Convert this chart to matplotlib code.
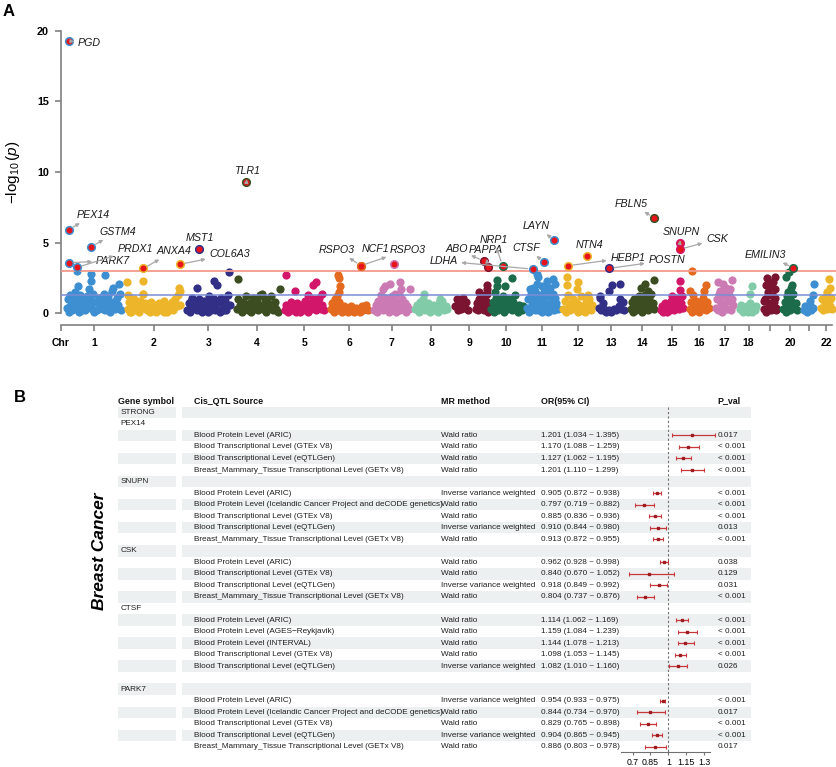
import numpy as np
import matplotlib
matplotlib.use('Agg')
from matplotlib import pyplot as plt
from matplotlib.patches import Rectangle

plt.rcParams['font.family'] = ['Liberation Sans', 'DejaVu Sans']
plt.rcParams['mathtext.fontset'] = 'custom'
plt.rcParams['mathtext.rm'] = 'Liberation Sans'
plt.rcParams['mathtext.it'] = 'Liberation Sans:italic'

W, H = 837, 767

# ---------------- panel A data ----------------
CHR_LEN = [249, 243, 198, 191, 181, 171, 159, 146, 141, 136, 135,
           134, 115, 107, 103, 90, 81, 78, 59, 63, 48, 51]
CHR_GAP = 31.2
CHR_COLORS = ['#3D8FD1', '#EDB52A', '#322F86', '#3C4D22', '#D2176B',
              '#E36A1E', '#CB7AB3', '#82CBA8', '#7A1431', '#1C6B4B']
CHR_TICKS = ['1', '2', '3', '4', '5', '6', '7', '8', '9', '10', '11',
             '12', '13', '14', '15', '16', '17', '18', '', '20', '', '22']

# background SNPs: position as fraction of chromosome, -log10(p)
BG_POS = [
    [0.00, 0.02, 0.04, 0.06, 0.08, 0.10, 0.12, 0.14, 0.16, 0.18, 0.20, 0.22, 0.25, 0.28, 0.31, 0.34, 0.37, 0.40,
     0.43, 0.46, 0.49, 0.52, 0.56, 0.59, 0.62, 0.65, 0.68, 0.71, 0.74, 0.77, 0.80, 0.83, 0.86, 0.89, 0.92, 0.95,
     0.98, 1.01, 0.18, 0.20, 0.44, 0.45, 0.71, 0.41, 0.97, 0.86, 0.33, 0.09, 0.05, 0.27, 0.50, 0.66, 0.79, 0.93],
    [0.00, 0.03, 0.06, 0.09, 0.12, 0.15, 0.18, 0.21, 0.24, 0.27, 0.30, 0.33, 0.36, 0.39, 0.42, 0.45, 0.48, 0.51,
     0.54, 0.57, 0.60, 0.63, 0.66, 0.69, 0.72, 0.75, 0.78, 0.81, 0.84, 0.87, 0.90, 0.93, 0.96, 0.99, -0.02, 0.30,
     0.30, 0.98, 1.00, 0.01, 0.05, 0.20, 0.40, 0.55, 0.70, 0.85],
    [0.00, 0.04, 0.08, 0.12, 0.16, 0.20, 0.24, 0.28, 0.32, 0.36, 0.40, 0.44, 0.48, 0.52, 0.56, 0.60, 0.64, 0.68,
     0.72, 0.76, 0.80, 0.84, 0.88, 0.92, 0.96, 1.00, 0.23, 0.63, 0.70, 0.99, 0.10, 0.06, 0.30, 0.50, 0.66, 0.86],
    [0.00, 0.04, 0.08, 0.12, 0.16, 0.20, 0.24, 0.28, 0.32, 0.36, 0.40, 0.44, 0.48, 0.52, 0.56, 0.60, 0.64, 0.68,
     0.72, 0.76, 0.80, 0.84, 0.88, 0.92, 0.96, 1.00, 0.03, 1.04, 0.62, 0.50, 0.10, 0.30, 0.46, 0.70, 0.90],
    [0.00, 0.04, 0.08, 0.12, 0.16, 0.20, 0.24, 0.28, 0.32, 0.36, 0.40, 0.44, 0.48, 0.52, 0.56, 0.60, 0.64, 0.68,
     0.72, 0.76, 0.80, 0.84, 0.88, 0.92, 0.96, 1.00, 0.03, 0.26, 0.72, 0.79, 0.95, 0.60],
    [0.00, 0.04, 0.08, 0.12, 0.16, 0.20, 0.24, 0.28, 0.32, 0.36, 0.40, 0.44, 0.48, 0.52, 0.56, 0.60, 0.64, 0.68,
     0.72, 0.76, 0.80, 0.84, 0.88, 0.92, 0.96, 1.00, 0.20, 0.24, 0.26, 0.22, 0.18],
    [0.00, 0.04, 0.08, 0.12, 0.16, 0.20, 0.24, 0.28, 0.32, 0.36, 0.40, 0.44, 0.48, 0.52, 0.56, 0.60, 0.64, 0.68,
     0.72, 0.76, 0.80, 0.84, 0.88, 0.92, 0.96, 1.00, 0.24, 0.32, 0.45, 0.75, 0.78, 1.03, 0.60],
    [0.00, 0.05, 0.10, 0.15, 0.20, 0.25, 0.30, 0.35, 0.40, 0.45, 0.50, 0.55, 0.60, 0.65, 0.70, 0.75, 0.80, 0.85,
     0.90, 0.95, 1.00, 0.27, 0.78],
    [0.05, 0.10, 0.15, 0.20, 0.25, 0.30, 0.35, 0.40, 0.45, 0.72, 0.76, 0.80, 0.84, 0.88, 0.92, 0.96, 1.00, 1.04,
     1.08, 1.12, 1.10, 1.10, 1.08, 0.90, 0.83],
    [0.00, 0.05, 0.10, 0.15, 0.20, 0.25, 0.30, 0.35, 0.40, 0.45, 0.50, 0.55, 0.60, 0.65, 0.70, 0.75, 0.80, 0.85,
     0.90, 0.95, 1.00, 0.19, 0.19, 0.48, 0.72, 0.12, 1.05, 1.10],
    [0.00, 0.04, 0.08, 0.12, 0.16, 0.20, 0.24, 0.28, 0.32, 0.36, 0.40, 0.44, 0.48, 0.52, 0.56, 0.60, 0.64, 0.68,
     0.72, 0.76, 0.80, 0.84, 0.88, 0.92, 0.96, 1.00, 0.32, 0.36, 0.34, 0.66, 0.88, 0.94, 0.50, 0.20, 0.60, 0.78,
     0.10, 0.06, 0.26, 0.46, 0.70, 0.90, 1.04],
    [0.00, 0.05, 0.10, 0.15, 0.20, 0.25, 0.30, 0.35, 0.40, 0.45, 0.50, 0.55, 0.60, 0.65, 0.70, 0.75, 0.80, 0.85,
     0.90, 0.95, 1.00, 0.12, 0.12, 0.50, 0.48, 0.85],
    [0.00, 0.05, 0.10, 0.15, 0.20, 0.30, 0.40, 0.50, 0.60, 0.70, 0.80, 0.85, 0.90, 0.95, 1.00, 0.52, 0.85, 0.39,
     0.05],
    [0.00, 0.05, 0.10, 0.15, 0.20, 0.25, 0.30, 0.35, 0.40, 0.45, 0.50, 0.55, 0.60, 0.65, 0.70, 0.75, 0.80, 0.85,
     0.90, 0.95, 1.00, 1.00, 0.63, 0.45, 0.75],
    [0.00, 0.06, 0.12, 0.18, 0.24, 0.30, 0.36, 0.42, 0.48, 0.54, 0.60, 0.66, 0.72, 0.78, 0.84, 0.90, 0.96, 1.02,
     0.86, 0.88, 0.50, 0.70],
    [0.00, 0.07, 0.14, 0.21, 0.28, 0.35, 0.42, 0.49, 0.56, 0.63, 0.70, 0.77, 0.84, 0.91, 0.98, 0.13, 0.00, 0.18,
     0.73, 0.85],
    [0.00, 0.07, 0.14, 0.21, 0.28, 0.35, 0.42, 0.49, 0.56, 0.63, 0.70, 0.77, 0.84, 0.91, 0.98, 0.15, 0.93, 0.40,
     0.60, 0.80, 0.25, 0.50],
    [0.00, 0.08, 0.16, 0.24, 0.32, 0.40, 0.48, 0.56, 0.64, 0.72, 0.80, 0.88, 0.96, 0.71, 0.60],
    [0.00, 0.10, 0.20, 0.30, 0.40, 0.50, 0.60, 0.70, 0.80, 0.90, 1.00, 0.25, 0.90, 0.50, 0.15, 0.70, 0.35, 0.85,
     0.05, 0.55, 0.95],
    [0.00, 0.10, 0.20, 0.30, 0.40, 0.50, 0.60, 0.70, 0.80, 0.90, 1.00, 0.40, 0.23, 0.55, 0.62, 0.35],
    [0.00, 0.15, 0.30, 0.45, 0.60, 0.75, 0.90, 0.98, 0.95, 0.60],
    [0.00, 0.12, 0.24, 0.36, 0.48, 0.60, 0.72, 0.84, 0.96, 1.05, 0.72, 0.80, 0.60],
]
BG_LOGP = [
    [0.4, 1.0, 0.1, 1.3, 0.6, 0.2, 0.9, 1.5, 0.3, 1.1, 0.7, 0.1, 1.3, 0.5, 0.9, 0.2, 1.2, 0.6, 1.0, 0.3, 1.4, 0.8,
     0.2, 1.1, 0.5, 0.9, 1.4, 0.2, 0.7, 1.2, 0.4, 1.6, 0.8, 0.3, 1.1, 0.6, 1.4, 0.2, 3.0, 1.9, 2.8, 2.3, 2.7, 1.7,
     2.1, 1.8, 0.7, 0.8, 0.5, 0.2, 0.1, 0.3, 0.1, 0.4],
    [0.3, 0.8, 0.1, 0.5, 1.0, 0.2, 0.6, 0.1, 0.9, 0.4, 1.4, 0.7, 0.2, 0.5, 0.1, 0.8, 0.3, 0.6, 0.1, 0.4, 0.7, 0.2,
     0.5, 0.9, 0.3, 0.1, 0.6, 0.4, 0.8, 0.2, 1.0, 0.5, 1.3, 0.6, 2.2, 2.3, 1.4, 1.8, 1.6, 1.3, 0.1, 0.3, 0.3, 0.2,
     0.1, 0.3],
    [0.2, 0.7, 0.1, 1.1, 0.4, 0.8, 0.2, 1.0, 0.5, 0.1, 0.9, 0.3, 0.7, 1.2, 0.2, 0.6, 1.0, 0.3, 0.8, 0.1, 1.1, 0.5,
     0.9, 0.2, 1.3, 0.6, 1.8, 2.3, 2.0, 2.9, 0.9, 0.4, 0.3, 0.1, 0.2, 0.2],
    [0.3, 1.0, 0.6, 0.1, 0.8, 0.4, 1.2, 0.2, 0.7, 0.1, 1.1, 0.5, 0.9, 0.2, 1.3, 0.6, 0.3, 1.0, 0.1, 0.7, 0.4, 1.2,
     0.2, 0.8, 0.3, 0.1, 2.4, 1.7, 1.4, 1.0, 0.2, 0.4, 0.3, 0.4, 0.5],
    [0.2, 0.6, 0.1, 0.4, 0.8, 0.2, 0.5, 0.1, 0.7, 0.3, 0.1, 0.6, 0.2, 0.9, 0.4, 0.1, 0.7, 0.3, 1.0, 0.5, 0.2, 0.8,
     1.1, 0.3, 0.6, 0.2, 2.7, 1.6, 2.0, 2.2, 1.4, 1.3],
    [0.3, 0.7, 0.1, 1.0, 0.4, 0.2, 0.8, 0.3, 0.1, 0.5, 0.2, 0.4, 0.1, 0.3, 0.5, 0.2, 0.1, 0.4, 0.2, 0.3, 0.1, 0.5,
     0.2, 0.3, 0.6, 0.2, 2.7, 2.5, 1.9, 1.5, 1.2],
    [0.2, 0.6, 0.1, 0.9, 0.4, 1.3, 0.2, 0.7, 1.1, 0.3, 0.8, 0.1, 0.5, 1.2, 0.3, 0.9, 0.1, 0.6, 1.4, 0.2, 1.0, 0.4,
     0.7, 0.1, 0.5, 0.3, 1.7, 1.9, 2.1, 2.2, 1.7, 1.7, 1.4],
    [0.3, 0.6, 0.1, 0.8, 0.4, 1.0, 0.2, 0.5, 0.7, 0.1, 0.4, 0.6, 0.2, 0.5, 0.1, 0.7, 0.3, 0.9, 0.2, 0.5, 0.3, 1.4,
     1.0],
    [0.5, 1.0, 0.2, 0.7, 0.3, 1.1, 0.4, 0.8, 0.2, 0.3, 0.7, 0.2, 1.0, 0.4, 1.2, 0.6, 0.2, 0.9, 0.5, 0.1, 2.0, 1.7,
     1.4, 1.3, 1.5],
    [0.3, 0.8, 0.1, 1.1, 0.5, 0.2, 0.9, 0.4, 1.2, 0.1, 0.7, 0.3, 1.0, 0.5, 0.2, 0.8, 1.3, 0.4, 0.1, 0.6, 0.3, 2.35,
     1.9, 1.9, 2.5, 1.5, 0.2, 0.5],
    [0.4, 1.0, 0.2, 1.4, 0.6, 1.1, 0.3, 1.6, 0.8, 0.2, 1.3, 0.5, 1.0, 0.1, 1.5, 0.7, 0.3, 1.2, 0.6, 1.7, 0.2, 0.9,
     1.4, 0.4, 1.1, 0.7, 2.8, 2.6, 2.1, 2.3, 2.4, 2.1, 1.9, 1.8, 1.9, 1.8, 1.7, 0.1, 0.2, 0.3, 0.1, 0.2, 0.3],
    [0.3, 0.9, 0.1, 1.3, 0.5, 0.2, 0.7, 1.0, 0.3, 0.8, 0.1, 0.6, 1.2, 0.3, 0.5, 0.1, 0.8, 0.4, 1.0, 0.2, 0.6, 2.6,
     2.0, 2.2, 1.7, 1.3],
    [0.4, 1.1, 0.2, 0.7, 0.3, 0.1, 0.2, 0.1, 0.3, 0.2, 0.5, 1.0, 0.3, 0.8, 0.2, 2.0, 2.1, 1.6, 1.2],
    [0.3, 0.8, 0.1, 1.0, 0.5, 0.2, 0.7, 1.2, 0.4, 0.9, 0.1, 0.6, 1.3, 0.3, 0.8, 0.2, 1.1, 0.5, 1.4, 0.7, 0.3, 2.35,
     2.1, 1.8, 1.6],
    [0.2, 0.5, 0.1, 0.7, 0.3, 0.1, 0.6, 0.2, 0.9, 0.4, 0.2, 0.8, 0.5, 1.0, 0.3, 0.7, 1.2, 0.4, 2.3, 1.65, 1.2, 1.1],
    [0.3, 0.8, 0.1, 0.5, 0.2, 0.9, 0.4, 0.1, 0.7, 0.3, 1.1, 0.5, 0.2, 0.8, 0.4, 3.0, 1.6, 1.3, 1.6, 2.0],
    [0.4, 1.0, 0.2, 1.4, 0.7, 0.1, 1.2, 0.5, 1.6, 0.3, 0.9, 1.3, 0.2, 1.0, 0.6, 2.2, 2.35, 2.1, 1.8, 1.7, 1.6, 1.5],
    [0.3, 0.6, 0.1, 0.4, 0.2, 0.5, 0.1, 0.7, 0.3, 0.1, 0.4, 0.2, 0.5, 1.9, 1.4],
    [0.3, 1.0, 0.1, 1.5, 0.6, 1.9, 0.2, 1.2, 0.8, 1.7, 0.4, 2.5, 2.6, 2.1, 2.0, 2.2, 1.3, 1.1, 0.9, 0.7, 0.2],
    [0.3, 0.8, 0.1, 1.2, 0.5, 0.2, 0.9, 1.4, 0.4, 0.7, 0.2, 2.95, 2.6, 1.8, 2.0, 1.5],
    [0.2, 0.5, 0.1, 0.3, 0.6, 0.2, 0.4, 2.1, 1.3, 0.9],
    [0.4, 1.0, 0.2, 0.7, 1.2, 0.3, 0.9, 0.5, 1.1, 0.3, 2.4, 1.8, 1.5],
]

# significant genes
HL_GENE = ['PGD', 'PEX14', 'PARK7', 'PRDX1', 'GSTM4', 'ANXA4', 'COL6A3', 'MST1', 'TLR1', 'RSPO3', 'NCF1',
           'RSPO3', 'ABO', 'PAPPA', 'NRP1', 'LDHA', 'CTSF', 'LAYN', 'HEBP1', 'NTN4', 'POSTN', 'FBLN5', 'SNUPN',
           'CSK', 'EMILIN3']
HL_CHR = [1, 1, 1, 1, 1, 2, 2, 3, 4, 6, 7, 6, 9, 9, 10, 11, 11, 11, 12, 12, 13, 14, 15, 15, 20]
HL_POS = [0.03, 0.03, 0.03, 0.19, 0.45, 0.30, 1.00, 0.28, 0.24, 0.82, 0.58, 0.82, 0.99, 1.11, 0.39, 0.18, 0.57,
          0.91, 0.17, 0.81, 0.41, 1.00, 0.87, 0.87, 0.74]
HL_LOGP = [19.27, 5.90, 3.58, 3.25, 4.71, 3.18, 3.47, 4.57, 9.31, 3.37, 3.47, 3.37, 3.70, 3.25, 3.37, 3.13, 3.65,
           5.19, 3.37, 4.08, 3.18, 6.77, 5.00, 4.53, 3.23]
# label placement (pixels from the point) and whether a leader arrow is drawn
HL_OFFSET = [(9, -2), (8, 15), (27, 2), (40, 18), (8, 15), (13, 17), (29, 10), (-13, 11), (-12, 11), (-42, 16),
             (-33, 15), (29, 16), (-39, 12), (-19, 17), (-23, 26), (-103, 8), (-32, 14), (-31, 14), (42, 8),
             (-11, 11), (39, 8), (-39, 14), (-17, 11), (26, 10), (-49, 13)]
HL_ARROW = [1, 1, 1, 1, 1, 1, 1, 0, 1, 1, 0, 1, 1, 1, 1, 1, 1, 1, 1, 0, 1, 1, 1, 1, 1]

SUGGEST_LINE = 1.3
SIG_LINE = 3.0

# ---------------- panel B data ----------------
ROW_GENE = ['STRONG', 'PEX14', '', '', '', '', 'SNUPN', '', '', '', '', '', 'CSK', '', '', '', '', 'CTSF',
            '', '', '', '', '', '', 'PARK7', '', '', '', '', '']
SRC_ARIC = 'Blood Protein Level (ARIC)'
SRC_ICE = 'Blood Protein Level (Icelandic Cancer Project and deCODE genetics)'
SRC_GTEX = 'Blood Transcriptional Level (GTEx V8)'
SRC_EQTL = 'Blood Transcriptional Level (eQTLGen)'
SRC_BREAST = 'Breast_Mammary_Tissue Transcriptional Level (GETx V8)'
ROW_SOURCE = ['', '', SRC_ARIC, SRC_GTEX, SRC_EQTL, SRC_BREAST,
              '', SRC_ARIC, SRC_ICE, SRC_GTEX, SRC_EQTL, SRC_BREAST,
              '', SRC_ARIC, SRC_GTEX, SRC_EQTL, SRC_BREAST,
              '', SRC_ARIC, 'Blood Protein Level (AGES\u2212Reykjavik)', 'Blood Protein Level (INTERVAL)',
              SRC_GTEX, SRC_EQTL,
              '', '', SRC_ARIC, SRC_ICE, SRC_GTEX, SRC_EQTL, SRC_BREAST]
WR = 'Wald ratio'
IVW = 'Inverse variance weighted'
ROW_METHOD = ['', '', WR, WR, WR, WR,
              '', IVW, WR, WR, IVW, WR,
              '', WR, WR, IVW, WR,
              '', WR, WR, WR, WR, IVW,
              '', '', IVW, WR, WR, IVW, WR]
ROW_OR = [None, None, 1.201, 1.170, 1.127, 1.201,
          None, 0.905, 0.797, 0.885, 0.910, 0.913,
          None, 0.962, 0.840, 0.918, 0.804,
          None, 1.114, 1.159, 1.144, 1.098, 1.082,
          None, None, 0.954, 0.844, 0.829, 0.904, 0.886]
ROW_LO = [None, None, 1.034, 1.088, 1.062, 1.110,
          None, 0.872, 0.719, 0.836, 0.844, 0.872,
          None, 0.928, 0.670, 0.849, 0.737,
          None, 1.062, 1.084, 1.078, 1.053, 1.010,
          None, None, 0.933, 0.734, 0.765, 0.865, 0.803]
ROW_HI = [None, None, 1.395, 1.259, 1.195, 1.299,
          None, 0.938, 0.882, 0.936, 0.980, 0.955,
          None, 0.998, 1.052, 0.992, 0.876,
          None, 1.169, 1.239, 1.213, 1.145, 1.160,
          None, None, 0.975, 0.970, 0.898, 0.945, 0.978]
ROW_P = ['', '', '0.017', '< 0.001', '< 0.001', '< 0.001',
         '', '< 0.001', '< 0.001', '< 0.001', '0.013', '< 0.001',
         '', '0.038', '0.129', '0.031', '< 0.001',
         '', '< 0.001', '< 0.001', '< 0.001', '< 0.001', '0.026',
         '', '', '< 0.001', '0.017', '< 0.001', '< 0.001', '0.017']
HEADERS = ['Gene symbol', 'Cis_QTL Source', 'MR method', 'OR(95% CI)', 'P_val']
OR_TICKS = [0.7, 0.85, 1, 1.15, 1.3]

fig = plt.figure(figsize=(W / 100, H / 100), dpi=100)


def px_axes(left, top, right, bottom):
    return fig.add_axes([left / W, 1 - bottom / H, (right - left) / W, (bottom - top) / H])


# ================= Panel A : Manhattan =================
PX_PER_MB = 0.2164
X0_PX = 67.0
Y0_PX = 313.3
PX_PER_LOG = 14.13

ax = px_axes(40, 15, 837, 335)
ax.set_xlim((40 - X0_PX) / PX_PER_MB, (837 - X0_PX) / PX_PER_MB)
ax.set_ylim((Y0_PX - 335) / PX_PER_LOG, (Y0_PX - 15) / PX_PER_LOG)
ax.patch.set_alpha(0)

chr_len = np.array(CHR_LEN, dtype=float)
chr_start = np.concatenate([[0.0], np.cumsum(chr_len + CHR_GAP)[:-1]])
chr_mid = chr_start + chr_len / 2
x_origin = (61 - X0_PX) / PX_PER_MB
x_end = chr_start[-1] + chr_len[-1]

for i in range(len(CHR_LEN)):
    n = min(len(BG_POS[i]), len(BG_LOGP[i]))
    xs = chr_start[i] + np.array(BG_POS[i][:n]) * chr_len[i]
    ax.scatter(xs, BG_LOGP[i][:n], s=35, color=CHR_COLORS[i % 10], linewidths=0, zorder=2)

ax.hlines(SIG_LINE, x_origin, x_end + 20, color='#F59A8C', lw=1.3, zorder=3)
ax.hlines(SUGGEST_LINE, x_origin, x_end + 20, color='#7B8CD6', lw=1.1, zorder=3)

for k, gene in enumerate(HL_GENE):
    c = HL_CHR[k] - 1
    x = chr_start[c] + HL_POS[k] * chr_len[c]
    y = HL_LOGP[k]
    ax.scatter([x], [y], s=30, facecolor='#E8141B', edgecolor=CHR_COLORS[c % 10],
               linewidths=1.1, zorder=4)
    props = None
    if HL_ARROW[k]:
        props = dict(arrowstyle='<|-', color='#A8A8A8', lw=0.9, mutation_scale=5,
                     shrinkA=0.5, shrinkB=3.5)
    ax.annotate(gene, xy=(x, y), xytext=HL_OFFSET[k], textcoords='offset pixels',
                ha='left', va='center', fontsize=7.7, style='italic', color='#1a1a1a',
                arrowprops=props, zorder=5)

for side in ['top', 'right']:
    ax.spines[side].set_visible(False)
ax.spines['left'].set_position(('data', x_origin))
ax.spines['left'].set_bounds(0, 20)
ax.spines['bottom'].set_position(('data', (Y0_PX - 325) / PX_PER_LOG))
ax.spines['bottom'].set_bounds(x_origin, x_end)
for side in ['left', 'bottom']:
    ax.spines[side].set_color('#808080')
    ax.spines[side].set_linewidth(1.2)

ax.set_yticks([0, 5, 10, 15, 20])
ax.set_yticklabels(['0', '5', '10', '15', '20'], fontweight='bold', fontsize=7.8)
ax.set_xticks([x_origin] + list(chr_mid))
ax.set_xticklabels(['Chr'] + CHR_TICKS, fontweight='bold', fontsize=7.5)
ax.tick_params(axis='both', color='#808080', width=1.2, length=4.3, direction='out', pad=4.5)
ax.tick_params(axis='x', pad=5)

fig.text(13 / W, 1 - 172 / H, r'$-\log_{10}(\mathit{p})$', rotation=90, ha='center', va='center',
         fontsize=11)
fig.text(3 / W, 1 - 11 / H, 'A', fontsize=12, fontweight='bold', ha='left', va='center')

# ================= Panel B : table + forest =================
ROW_TOP = 412.3
ROW_H = 11.54
n_rows = len(ROW_GENE)
ylo = (767 - ROW_TOP) / ROW_H
yhi = (380 - ROW_TOP) / ROW_H

axt = px_axes(0, 380, 837, 767)
axt.set_xlim(0, W)
axt.set_ylim(ylo, yhi)
axt.axis('off')

band = '#EDF0F0'
for i in range(0, n_rows, 2):
    axt.add_patch(Rectangle((118.3, i - 0.5), 57.7, 1.0, color=band, lw=0, zorder=0))
    axt.add_patch(Rectangle((181.7, i - 0.5), 569.3, 1.0, color=band, lw=0, zorder=0))

col_x = [118.3, 194.3, 440.7, 541.0, 717.7]
head_y = (401 - ROW_TOP) / ROW_H
for hx, htxt in zip(col_x, HEADERS):
    axt.text(hx, head_y, htxt, fontsize=6.4, fontweight='bold', ha='left', va='center', color='#111111')

body = dict(fontsize=5.9, ha='left', va='center', color='#1f1f1f')
for i in range(n_rows):
    if ROW_GENE[i]:
        axt.text(120.5, i, ROW_GENE[i], **body)
    if ROW_SOURCE[i]:
        axt.text(col_x[1], i, ROW_SOURCE[i], **body)
    if ROW_METHOD[i]:
        axt.text(col_x[2], i, ROW_METHOD[i], **body)
    if ROW_OR[i] is not None:
        axt.text(col_x[3], i, f'{ROW_OR[i]:.3f} ({ROW_LO[i]:.3f} ~ {ROW_HI[i]:.3f})', **body)
    if ROW_P[i]:
        axt.text(col_x[4], i, ROW_P[i], **body)

fig.text(99.3 / W, 1 - 551.5 / H, 'Breast Cancer', rotation=90, ha='center', va='center',
         fontsize=12.5, fontweight='bold', style='italic')
fig.text(14 / W, 1 - 397.5 / H, 'B', fontsize=12, fontweight='bold', ha='left', va='center')

# forest
OR_PX1 = 668.3
PX_PER_OR = 118.7
axf = px_axes(600, 380, 740, 767)
axf.set_xlim(1 + (600 - OR_PX1) / PX_PER_OR, 1 + (740 - OR_PX1) / PX_PER_OR)
axf.set_ylim(ylo, yhi)
axf.patch.set_alpha(0)

rows = [i for i in range(n_rows) if ROW_OR[i] is not None]
o = np.array([ROW_OR[i] for i in rows])
lo = np.array([ROW_LO[i] for i in rows])
hi = np.array([ROW_HI[i] for i in rows])
axis_row = (752.3 - ROW_TOP) / ROW_H
axf.vlines(1, -0.45, axis_row, colors='#707070', linestyles=(0, (2, 2)), lw=0.8, zorder=1)
axf.errorbar(o, rows, xerr=[o - lo, hi - o], fmt='s', ms=2.0, color='#9E1B1F', ecolor='#C8373A',
             elinewidth=0.9, capsize=1.6, capthick=0.8, zorder=3)

for side in ['top', 'right', 'left']:
    axf.spines[side].set_visible(False)
axf.spines['bottom'].set_position(('data', axis_row))
axf.spines['bottom'].set_bounds(0.6, 1.35)
axf.spines['bottom'].set_color('#707070')
axf.spines['bottom'].set_linewidth(0.8)
axf.set_yticks([])
axf.set_xticks(OR_TICKS)
axf.set_xticklabels(['0.7', '0.85', '1', '1.15', '1.3'], fontsize=6.3)
axf.tick_params(axis='x', color='#707070', width=0.8, length=2.5, pad=1.5)

fig.savefig('out.png', dpi=100)
